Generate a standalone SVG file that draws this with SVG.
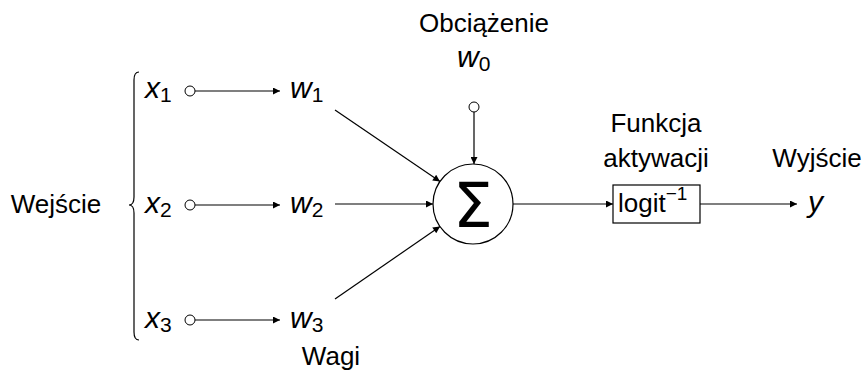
<svg xmlns="http://www.w3.org/2000/svg" width="867" height="372" viewBox="0 0 867 372">
<defs>
<marker id="ah" viewBox="0 0 10 10" refX="10" refY="5" markerWidth="10" markerHeight="7" markerUnits="userSpaceOnUse" orient="auto"><path d="M0,0 L10,5 L0,10 z" fill="#000"/></marker>
<style>
text{font-family:"Liberation Sans",Arial,sans-serif;fill:#000}
.lbl{font-size:26px}
.var{font-size:30px;font-style:italic}
.sub{font-size:21px;font-style:normal}
.ln{stroke:#000;stroke-width:1.2;fill:none}
.arr{stroke:#000;stroke-width:1.2;fill:none;marker-end:url(#ah)}
.dot{fill:#fff;stroke:#000;stroke-width:1}
</style>
</defs>
<rect width="867" height="372" fill="#fff"/>
<g id="inputs-label">
<text class="lbl" x="56" y="213" text-anchor="middle">Wejście</text>
<path class="ln" d="M139,72 Q134,72 134,80 L134,197 Q134,205 129,205 Q134,205 134,213 L134,332 Q134,340 139,340" stroke-width="1"/>
</g>
<g id="x1"><text class="var" x="145" y="98">x<tspan class="sub" dy="4">1</tspan></text><circle class="dot" cx="190" cy="91" r="5"/></g>
<g id="x2"><text class="var" x="145" y="213">x<tspan class="sub" dy="4">2</tspan></text><circle class="dot" cx="190" cy="205" r="5"/></g>
<g id="x3"><text class="var" x="145" y="328">x<tspan class="sub" dy="4">3</tspan></text><circle class="dot" cx="190" cy="320" r="5"/></g>
<g id="w1"><text class="var" x="290" y="98">w<tspan class="sub" dy="4">1</tspan></text></g>
<g id="w2"><text class="var" x="290" y="213">w<tspan class="sub" dy="4">2</tspan></text></g>
<g id="w3"><text class="var" x="290" y="328">w<tspan class="sub" dy="4">3</tspan></text></g>
<g id="weights-label"><text class="lbl" x="331" y="365" text-anchor="middle">Wagi</text></g>
<g id="bias">
<text class="lbl" x="484" y="32" text-anchor="middle">Obciążenie</text>
<text class="var" x="457" y="67">w<tspan class="sub" dy="4">0</tspan></text>
<circle class="dot" cx="474" cy="107" r="5"/>
</g>
<g id="sum">
<circle cx="473" cy="204" r="40" fill="#fff" stroke="#000" stroke-width="1.2"/>
<text x="473" y="227" text-anchor="middle" style="font-family:'DejaVu Sans',sans-serif;font-size:63px">Σ</text>
</g>
<g id="activation">
<text class="lbl" x="656" y="132" text-anchor="middle">Funkcja</text>
<text class="lbl" x="656" y="167" text-anchor="middle">aktywacji</text>
<rect x="613" y="185" width="87" height="38" fill="#fff" stroke="#000" stroke-width="1.2"/>
<text class="lbl" x="618" y="212">logit<tspan font-size="19" dy="-12">−1</tspan></text>
</g>
<g id="output">
<text class="lbl" x="817" y="167" text-anchor="middle">Wyjście</text>
<text class="var" x="808" y="212">y</text>
</g>
<g id="connectors">
<line class="arr" x1="195" y1="91" x2="280" y2="91"/>
<line class="arr" x1="195" y1="205" x2="280" y2="205"/>
<line class="arr" x1="195" y1="320" x2="280" y2="320"/>
<line class="arr" x1="335" y1="110" x2="440" y2="181.5"/>
<line class="arr" x1="335" y1="204" x2="433" y2="204"/>
<line class="arr" x1="335" y1="299" x2="440" y2="226.5"/>
<line class="arr" x1="474" y1="112" x2="474" y2="164"/>
<line class="arr" x1="513" y1="204" x2="613" y2="204"/>
<line class="arr" x1="700" y1="204" x2="797" y2="204"/>
</g>
</svg>
